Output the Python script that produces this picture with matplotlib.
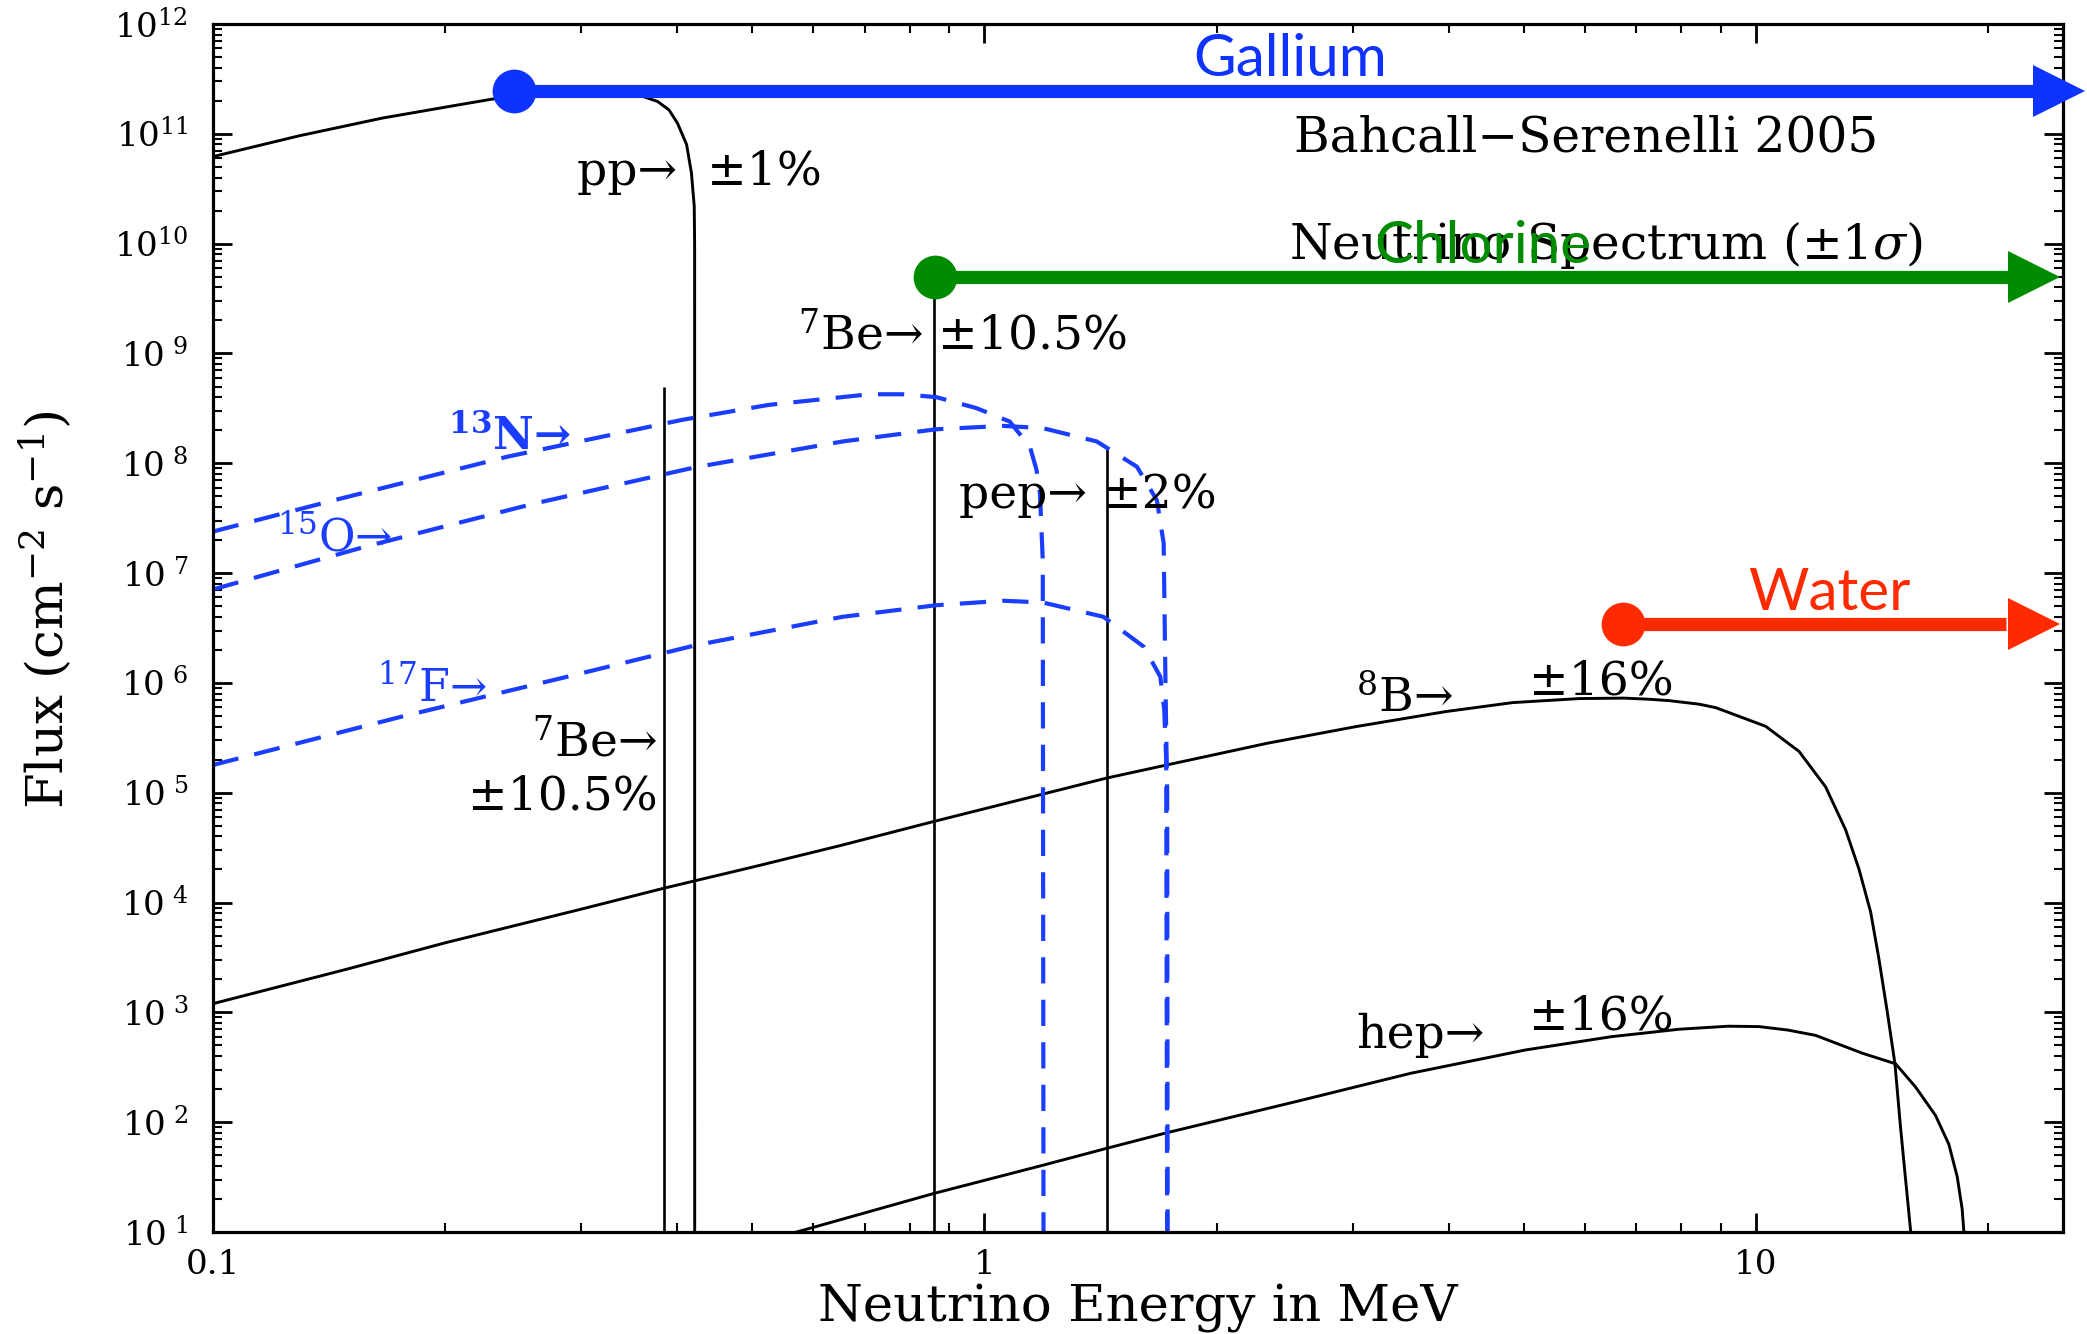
import numpy as np
import matplotlib
matplotlib.use("Agg")
import matplotlib.pyplot as plt
from matplotlib.ticker import FixedLocator, NullFormatter, LogLocator

plt.rcParams['font.family'] = ['DejaVu Serif']
plt.rcParams['mathtext.fontset'] = 'dejavuserif'

# ---------------- data ----------------
E_pp = [0.1, 0.1294, 0.1657, 0.202, 0.23, 0.26, 0.3345, 0.36, 0.377, 0.39, 0.40, 0.411, 0.417, 0.4205, 0.421, 0.4211]
F_pp = [6.2e10, 9.6e10, 1.39e11, 1.77e11, 2.07e11, 2.2e11, 2.26e11, 2.2e11, 1.97e11, 1.65e11, 1.25e11, 8.0e10, 4.4e10, 2.2e10, 1e10, 1]

E_B8 = [0.1, 0.15, 0.2, 0.3, 0.384, 0.5, 0.65, 0.862, 1.44, 1.723, 2.325, 3.03, 3.96, 4.84, 5.90, 6.75,
        7.27, 7.71, 8.44, 8.87, 10.29, 11.37, 12.31, 13.07, 13.6, 14.08, 14.43, 14.8, 15.14, 15.39, 15.63, 15.87, 16.0]
F_B8 = [1.2e3, 2.5e3, 4.3e3, 8.7e3, 1.35e4, 2.1e4, 3.3e4, 5.5e4, 1.36e5, 1.79e5, 2.82e5, 4.0e5, 5.48e5, 6.62e5, 7.2e5, 7.27e5,
        7.1e5, 6.9e5, 6.4e5, 5.95e5, 4.03e5, 2.38e5, 1.13e5, 4.58e4, 2.01e4, 8.2e3, 3.09e3, 1.0e3, 340, 91.6, 29.8, 10, 1]

E_hep = [0.5, 0.571, 0.861, 1.193, 1.44, 1.724, 2.534, 3.57, 5.03, 6.5, 7.95, 9.2, 10.09, 11.0, 11.95, 13.73, 15.17, 16.1, 17.09, 17.78, 18.23, 18.5, 18.6, 18.7]
F_hep = [7.9, 10, 22.5, 40.7, 57.8, 80.2, 154, 279, 455, 601, 702, 748, 742, 690, 617, 425, 340, 209, 115, 63, 32, 16.3, 10, 1]

E_N13 = [0.1, 0.1434, 0.241, 0.405, 0.525, 0.709, 0.783, 0.866, 0.976, 1.078, 1.145, 1.168, 1.18, 1.19, 1.193]
F_N13 = [2.39e7, 4.6e7, 1.15e8, 2.48e8, 3.4e8, 4.25e8, 4.25e8, 4.0e8, 3.18e8, 2.4e8, 1.42e8, 8.7e7, 5.3e7, 1.3e7, 1]

E_O15 = [0.1, 0.158, 0.261, 0.422, 0.655, 0.866, 1.057, 1.19, 1.398, 1.576, 1.673, 1.707, 1.717, 1.725, 1.728]
F_O15 = [7.1e6, 1.75e7, 4.3e7, 9.2e7, 1.58e8, 2.04e8, 2.19e8, 2.09e8, 1.58e8, 9.3e7, 4.6e7, 1.87e7, 8e5, 1e5, 1]

E_F17 = [0.1, 0.175, 0.294, 0.422, 0.655, 0.866, 1.057, 1.19, 1.426, 1.608, 1.69, 1.71, 1.72, 1.726]
F_F17 = [1.79e5, 4.9e5, 1.18e6, 2.2e6, 4.0e6, 5.1e6, 5.6e6, 5.4e6, 4.0e6, 2.14e6, 1.14e6, 5.7e5, 2e5, 1]

# lines
E_lines = [0.3843, 0.8613, 1.442]      # 7Be (384), 7Be (862), pep
F_lines = [4.9e8, 5.0e9, 1.35e8]

# detector thresholds
det_names = ['Gallium', 'Chlorine', 'Water']
det_E = [0.2456, 0.862, 6.72]
det_F = [2.48e11, 5.0e9, 3.47e6]
det_colors = ['#0f33ff', '#008c00', '#ff2a00']
arrow_base_E = [22.9, 21.2, 21.1]
arrow_head_E = [24.7, 22.95, 22.9]

xticks = [0.1, 1, 10]
xticklabels = ['0.1', '1', '10']
yticks = [10.0 ** k for k in range(1, 13)]
yticklabels = ['10$^{\\ %d}$' % k if k < 10 else '10$^{%d}$' % k for k in range(1, 13)]

# ---------------- figure ----------------
W, H = 2087, 1334
fig = plt.figure(figsize=(W / 100, H / 100), dpi=100)
ax = fig.add_axes([213 / W, 1 - 1232 / H, (2063 - 213) / W, (1232 - 24) / H])
ax.set_xscale('log')
ax.set_yscale('log')
ax.set_xlim(0.1, 25)
ax.set_ylim(10, 1e12)

blue_d = '#1a3dff'
lw_c = 2.1
ax.plot(E_pp, F_pp, color='k', lw=lw_c)
ax.plot(E_B8, F_B8, color='k', lw=lw_c)
ax.plot(E_hep, F_hep, color='k', lw=lw_c)
ax.vlines(E_lines, 1, F_lines, color='k', lw=1.9)

dash = (0, (6.3, 3.9))
for E_, F_ in [(E_N13, F_N13), (E_O15, F_O15), (E_F17, F_F17)]:
    ax.plot(E_, F_, color=blue_d, lw=3.0, linestyle=dash)

# detector arrows
for name, e0, f0, c, eb, eh in zip(det_names, det_E, det_F, det_colors, arrow_base_E, arrow_head_E):
    ax.plot([e0, eb], [f0, f0], color=c, lw=9.5, solid_capstyle='butt', clip_on=False, zorder=5)
    ax.plot([eh], [f0], marker='>', ms=38, color=c, mew=0, clip_on=False, zorder=5)
    ax.plot([e0], [f0], marker='o', ms=31.5, color=c, mew=0, clip_on=False, zorder=6)

sans = 'Lato'
ax.text(1.864, 3.33e11, 'Gallium', color=det_colors[0], family=sans, fontsize=42, ha='left', va='baseline', zorder=7)
ax.text(3.20, 6.68e9, 'Chlorine', color=det_colors[1], family=sans, fontsize=42, ha='left', va='baseline', zorder=7)
ax.text(9.77, 4.59e6, 'Water', color=det_colors[2], family=sans, fontsize=42, ha='left', va='baseline', zorder=7)

fs_t = 35
ax.text(6.02, 6.86e10, 'Bahcall\u2212Serenelli 2005', fontsize=fs_t, ha='center', va='baseline')
ax.text(6.39, 7.28e9, 'Neutrino Spectrum (\u00b11$\\sigma$)', fontsize=fs_t, ha='center', va='baseline')

fs_a = 34
ax.text(0.296, 3.43e10, 'pp\u2192  \u00b11%', fontsize=fs_a, ha='left', va='baseline')
ax.text(0.573, 1.08e9, '$^{7}$Be\u2192 \u00b110.5%', fontsize=fs_a, ha='left', va='baseline')
ax.text(0.928, 3.9e7, 'pep\u2192 \u00b12%', fontsize=fs_a, ha='left', va='baseline')
ax.text(0.377, 2.13e5, '$^{7}$Be\u2192', fontsize=fs_a, ha='right', va='baseline')
ax.text(0.377, 6.97e4, '\u00b110.5%', fontsize=fs_a, ha='right', va='baseline')
ax.text(3.03, 5.33e5, '$^{8}$B\u2192', fontsize=fs_a, ha='left', va='baseline')
ax.text(5.08, 7.78e5, '\u00b116%', fontsize=fs_a, ha='left', va='baseline')
ax.text(3.03, 476, 'hep\u2192', fontsize=fs_a, ha='left', va='baseline')
ax.text(5.08, 692, '\u00b116%', fontsize=fs_a, ha='left', va='baseline')

fs_b = 32
ax.text(0.2014, 1.32e8, '$^{\\mathbf{13}}$N\u2192', fontsize=fs_b, ha='left', va='baseline', color=blue_d, fontweight='bold')
ax.text(0.121, 1.57e7, '$^{15}$O\u2192', fontsize=fs_b, ha='left', va='baseline', color=blue_d)
ax.text(0.163, 6.76e5, '$^{17}$F\u2192', fontsize=fs_b, ha='left', va='baseline', color=blue_d)

# axes styling
ax.xaxis.set_major_locator(FixedLocator(xticks))
ax.set_xticklabels(xticklabels)
ax.xaxis.set_minor_locator(LogLocator(base=10, subs=np.arange(2, 10)))
ax.xaxis.set_minor_formatter(NullFormatter())
ax.yaxis.set_major_locator(FixedLocator(yticks))
ax.set_yticklabels(yticklabels)
ax.yaxis.set_minor_locator(LogLocator(base=10, subs=np.arange(2, 10), numticks=30))
ax.yaxis.set_minor_formatter(NullFormatter())

for s in ax.spines.values():
    s.set_linewidth(2.3)
ax.tick_params(which='both', direction='in', top=True, right=True)
ax.tick_params(which='major', length=14, width=2.0, labelsize=24.5)
ax.tick_params(which='minor', length=6.5, width=1.5)
ax.tick_params(axis='y', which='major', pad=18)
ax.tick_params(axis='x', which='major', pad=12)

ax.set_xlabel('Neutrino Energy in MeV', fontsize=37, labelpad=2)
ax.set_ylabel('Flux (cm$^{-2}$ s$^{-1}$)', fontsize=37)
ax.yaxis.set_label_coords(-0.075, 0.515)

fig.savefig('out.png', dpi=100)
